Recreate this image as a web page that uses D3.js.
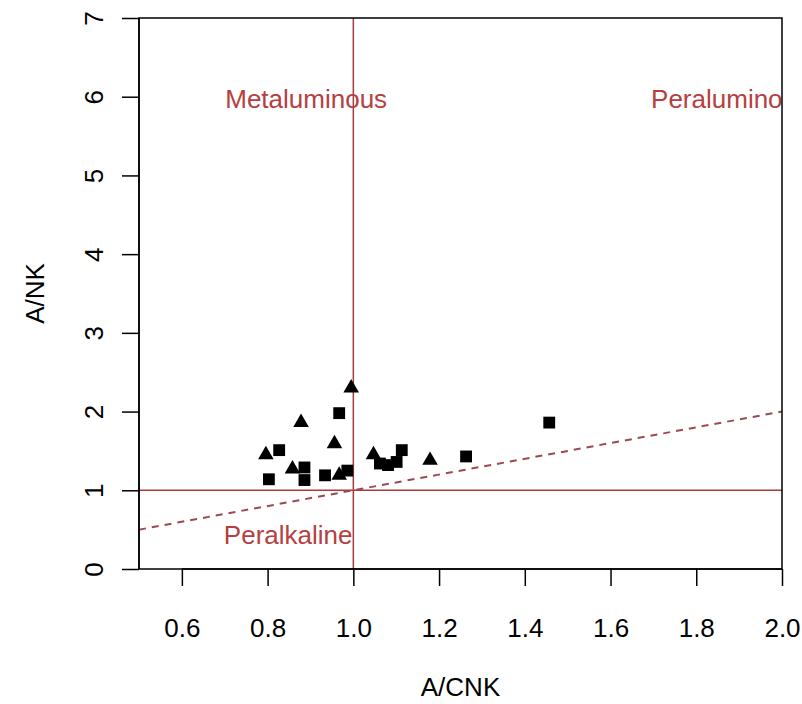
<!DOCTYPE html>
<html>
<head>
<meta charset="utf-8">
<script src="https://cdn.jsdelivr.net/npm/d3@7"></script>
<style>
  body { margin: 0; background: #fff; }
  text { font-family: "Liberation Sans", Arial, sans-serif; }
</style>
</head>
<body>
<div id="chart"></div>
<script>
// A/CNK vs A/NK (Shand's index)
const squaresACNK = [0.967, 0.827, 0.803, 0.886, 0.886, 0.934, 0.986, 1.062, 1.081, 1.101, 1.113, 1.263, 1.457];
const squaresANK  = [1.98, 1.51, 1.14, 1.29, 1.13, 1.19, 1.25, 1.34, 1.32, 1.36, 1.51, 1.43, 1.86];
const trianglesACNK = [0.995, 0.878, 0.956, 0.796, 0.858, 0.967, 1.047, 1.179];
const trianglesANK  = [2.30, 1.86, 1.59, 1.45, 1.27, 1.19, 1.45, 1.38];
const xTicks = [0.6, 0.8, 1.0, 1.2, 1.4, 1.6, 1.8, 2.0];
const yTicks = [0, 1, 2, 3, 4, 5, 6, 7];
const boundary = [[0.5, 0.5], [2.0, 2.0]];
const regionLabels = ["Metaluminous", "Peraluminous", "Peralkaline"];
const labelX = [0.89, 1.88, 0.848];
const labelY = [5.97, 5.97, 0.43];

const width = 802, height = 704;
const margin = {top: 18, right: 20, bottom: 135, left: 139};
const lineCol = "#a83a40";
const fs = 26;

const svg = d3.select("#chart").append("svg")
    .attr("width", width)
    .attr("height", height);

const xScale = d3.scaleLinear().domain([0.5, 2.0]).range([margin.left, width - margin.right]);
const yScale = d3.scaleLinear().domain([0, 7]).range([height - margin.bottom, margin.top]);

svg.append("defs").append("clipPath").attr("id", "clip")
  .append("rect")
    .attr("x", margin.left).attr("y", margin.top)
    .attr("width", xScale.range()[1] - margin.left)
    .attr("height", yScale.range()[0] - margin.top);

const plot = svg.append("g").attr("clip-path", "url(#clip)");

// reference lines
plot.append("line")
    .attr("x1", xScale(1)).attr("x2", xScale(1))
    .attr("y1", yScale(0)).attr("y2", yScale(7))
    .attr("stroke", lineCol).attr("stroke-width", 1.5);
plot.append("line")
    .attr("x1", xScale(0.5)).attr("x2", xScale(2))
    .attr("y1", yScale(1)).attr("y2", yScale(1))
    .attr("stroke", lineCol).attr("stroke-width", 1.5);
plot.append("path")
    .datum(boundary)
    .attr("d", d3.line().x(d => xScale(d[0])).y(d => yScale(d[1])))
    .attr("fill", "none")
    .attr("stroke", "#9a4a50")
    .attr("stroke-width", 2)
    .attr("stroke-dasharray", "7,6");

// region labels (Peraluminous is clipped by the plot edge, as in the original)
plot.selectAll(".region")
  .data(regionLabels)
  .join("text")
    .attr("class", "region")
    .attr("x", (d, i) => xScale(labelX[i]))
    .attr("y", (d, i) => yScale(labelY[i]))
    .attr("dy", "0.35em")
    .attr("text-anchor", "middle")
    .style("font-size", fs + "px")
    .attr("fill", "#b5403f")
    .text(d => d);

// points
plot.selectAll(".sq")
  .data(squaresACNK)
  .join("path")
    .attr("class", "sq")
    .attr("d", d3.symbol(d3.symbolSquare, 140))
    .attr("transform", (d, i) => `translate(${xScale(d)},${yScale(squaresANK[i])})`)
    .attr("fill", "#000");

plot.selectAll(".tri")
  .data(trianglesACNK)
  .join("path")
    .attr("class", "tri")
    .attr("d", d3.symbol(d3.symbolTriangle, 105))
    .attr("transform", (d, i) => `translate(${xScale(d)},${yScale(trianglesANK[i])})`)
    .attr("fill", "#000");

// box
svg.append("rect")
    .attr("x", margin.left).attr("y", margin.top)
    .attr("width", xScale.range()[1] - margin.left)
    .attr("height", yScale.range()[0] - margin.top)
    .attr("fill", "none").attr("stroke", "#000").attr("stroke-width", 1.5);

// axes
const xAxis = d3.axisBottom(xScale).tickValues(xTicks).tickSize(17).tickPadding(33)
    .tickFormat(d3.format(".1f"));
const yAxis = d3.axisLeft(yScale).tickValues(yTicks).tickSize(17).tickPadding(20)
    .tickFormat(d3.format("d"));

const gx = svg.append("g")
    .attr("transform", `translate(0,${yScale(0)})`)
    .call(xAxis);
const gy = svg.append("g")
    .attr("transform", `translate(${margin.left},0)`)
    .call(yAxis);

[gx, gy].forEach(g => {
  g.attr("font-size", null).attr("font-family", null);
  g.select(".domain").remove();
  g.selectAll(".tick line").attr("stroke", "#000").attr("stroke-width", 1.5);
  g.selectAll(".tick text").style("font-size", fs + "px").attr("fill", "#000");
});
gx.append("line")
    .attr("x1", xScale(0.6)).attr("x2", xScale(2))
    .attr("stroke", "#000").attr("stroke-width", 1.5);
gy.append("line")
    .attr("y1", yScale(0)).attr("y2", yScale(7))
    .attr("stroke", "#000").attr("stroke-width", 1.5);

// rotate y tick labels like R
gy.selectAll(".tick text")
    .attr("text-anchor", "middle")
    .attr("x", 0).attr("dy", 0)
    .attr("transform", "translate(-36,0) rotate(-90)");

// axis titles
svg.append("text")
    .attr("x", (margin.left + xScale.range()[1]) / 2)
    .attr("y", 696)
    .attr("text-anchor", "middle")
    .style("font-size", fs + "px")
    .text("A/CNK");
svg.append("text")
    .attr("transform", `translate(44,${(yScale(0) + yScale(7)) / 2}) rotate(-90)`)
    .attr("text-anchor", "middle")
    .style("font-size", fs + "px")
    .text("A/NK");
</script>
</body>
</html>
